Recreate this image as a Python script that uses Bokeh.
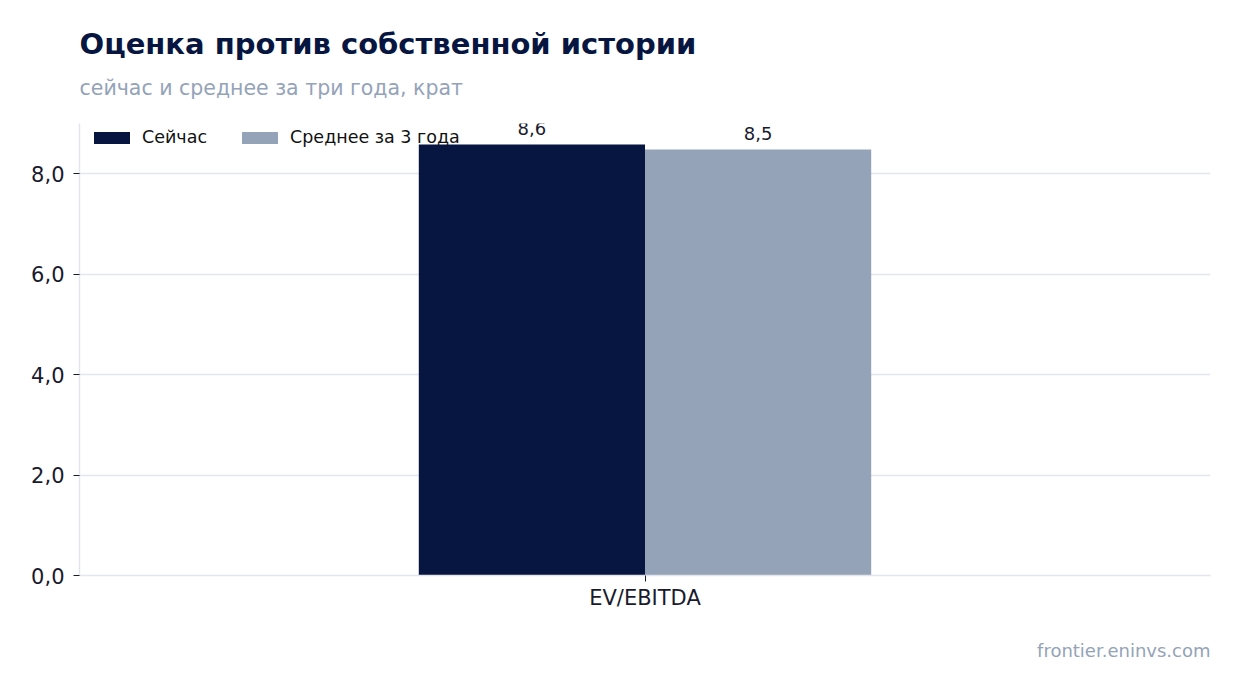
from bokeh.plotting import figure
from bokeh.models import ColumnDataSource, FactorRange, FixedTicker, Legend, LegendItem, Title
from bokeh.transform import dodge
from bokeh.core.properties import value
from bokeh.embed import file_html
from bokeh.resources import INLINE

# data
categories = ["EV/EBITDA"]
now_vals = [8.58]
avg_vals = [8.48]
now_text = ["8,6"]
avg_text = ["8,5"]
y_ticks = [0, 2, 4, 6, 8]

NAVY = "#061640"
GREY = "#94a3b8"
INK = "#1a1a2e"
FONT = "DejaVu Sans"

src = ColumnDataSource(dict(cat=categories, now=now_vals, avg=avg_vals,
                            now_t=now_text, avg_t=avg_text))

p = figure(width=1233, height=685, x_range=FactorRange(*categories, range_padding=0),
           y_range=(0, 9.0), output_backend="svg", toolbar_location=None, title=None,
           min_border_left=79, min_border_right=23, min_border_top=123, min_border_bottom=109)
p.outline_line_color = None

r1 = p.vbar(x=dodge("cat", -0.1, range=p.x_range), top="now", width=0.2, source=src,
            fill_color=NAVY, line_color=None)
r2 = p.vbar(x=dodge("cat", 0.1, range=p.x_range), top="avg", width=0.2, source=src,
            fill_color=GREY, line_color=None)

p.text(x=dodge("cat", -0.1, range=p.x_range), y="now", text="now_t", source=src,
       text_align="center", text_baseline="bottom", y_offset=-10,
       text_font=value(FONT), text_font_size="18px", text_color=INK)
p.text(x=dodge("cat", 0.1, range=p.x_range), y="avg", text="avg_t", source=src,
       text_align="center", text_baseline="bottom", y_offset=-10,
       text_font=value(FONT), text_font_size="18px", text_color=INK)

# axes
p.yaxis.ticker = FixedTicker(ticks=y_ticks)
p.yaxis.major_label_overrides = {t: f"{t:.1f}".replace(".", ",") for t in y_ticks}
for ax in (p.xaxis[0], p.yaxis[0]):
    ax.axis_line_color = "#e2e5ee"
    ax.axis_line_width = 1.5
    ax.major_label_text_font = FONT
    ax.major_label_text_font_size = "21px"
    ax.major_label_text_color = INK
    ax.major_tick_line_color = INK
    ax.major_tick_out = 6
    ax.major_tick_in = 0
    ax.minor_tick_line_color = None
p.xaxis.major_label_standoff = 4
p.yaxis.major_label_standoff = 9

p.xgrid.grid_line_color = None
p.ygrid.grid_line_color = "#e2e5ee"
p.ygrid.grid_line_width = 1.5

# bar swatches are drawn 10% inset, so the glyph box is a bit larger than the visible patch
legend = Legend(items=[LegendItem(label="Сейчас", renderers=[r1]),
                       LegendItem(label="Среднее за 3 года", renderers=[r2])],
                orientation="horizontal", location=(10, 428),
                border_line_color=None, background_fill_alpha=0,
                label_text_font=FONT, label_text_font_size="17.5px", label_text_color="#111111",
                glyph_width=45, glyph_height=15, spacing=30, label_standoff=8,
                margin=0, padding=6)
p.add_layout(legend)

# titles: the first one added sits closest to the plot; a blank one acts as a spacer
p.add_layout(Title(text=" ", text_font_size="2px", standoff=8), "above")
p.add_layout(Title(text="сейчас и среднее за три года, крат", align="left",
                   text_font=FONT, text_font_size="20.5px", text_font_style="normal",
                   text_color=GREY, standoff=24), "above")
p.add_layout(Title(text="Оценка против собственной истории", align="left",
                   text_font=FONT, text_font_size="29px", text_font_style="bold",
                   text_color=NAVY, standoff=2), "above")
p.add_layout(Title(text="frontier.eninvs.com", align="right",
                   text_font=FONT, text_font_size="18px", text_font_style="normal",
                   text_color=GREY, standoff=50), "below")

open("out.html", "w").write(file_html(p, INLINE))
